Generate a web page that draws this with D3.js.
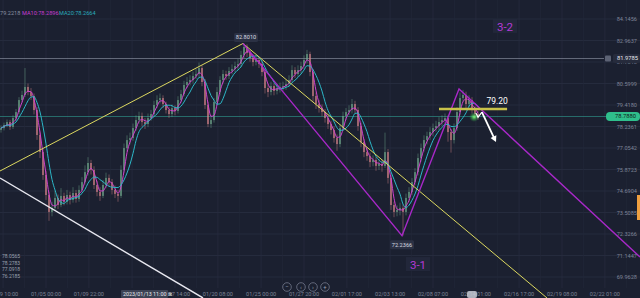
<!DOCTYPE html>
<html><head><meta charset="utf-8">
<script src="https://cdn.jsdelivr.net/npm/d3@7"></script>
<style>html,body{margin:0;padding:0;background:#1b2030;overflow:hidden}svg{display:block}</style>
</head><body>
<svg id="c" width="640" height="298"></svg>
<script>
// ---------- data ----------
const firstOpen = 78.05;
const closes = [78.15,78.32,78.48,78.21,78.70,79.03,79.69,79.97,80.41,80.13,
 79.91,79.14,77.77,76.83,75.57,74.47,73.54,73.76,74.31,73.92,
 74.42,74.09,74.47,74.20,74.58,74.25,74.75,75.18,75.73,76.23,
 75.85,75.02,74.64,74.42,75.02,75.41,75.18,74.75,74.53,74.42,
 75.85,77.05,77.49,77.60,78.15,78.59,78.81,78.48,78.37,78.70,
 78.92,79.42,79.69,79.80,79.47,79.14,78.92,79.25,79.09,79.69,
 80.02,80.52,80.68,80.79,81.01,81.12,81.45,80.68,79.42,78.37,
 78.59,79.58,80.13,80.79,81.12,81.01,81.29,81.40,81.56,81.67,
 82.17,82.61,82.28,82.00,81.78,81.89,81.67,81.23,80.35,80.13,
 80.46,80.19,80.30,80.41,80.46,80.57,80.79,81.34,81.12,81.34,
 81.56,81.89,82.22,81.23,79.91,79.47,79.25,79.03,78.70,78.37,
 78.04,77.60,77.27,78.15,78.81,79.03,79.14,79.47,79.14,78.26,
 77.38,76.83,76.61,76.28,76.40,76.07,76.18,76.07,76.83,75.41,
 73.92,73.54,73.65,73.76,73.54,74.31,74.64,75.18,75.73,76.50,
 77.05,77.49,77.71,77.93,78.15,78.26,78.48,78.59,78.70,77.93,
 77.49,78.15,79.03,79.80,79.97,79.47,79.69,79.14,78.92,78.79];
const highs = [78.30,78.45,78.62,78.60,78.85,79.20,79.85,80.20,81.45,80.60,
 80.35,80.05,79.30,77.95,77.00,75.80,74.65,74.10,74.70,74.50,
 74.85,74.60,74.75,74.65,74.90,74.75,75.00,75.45,76.10,76.55,
 76.40,76.05,75.25,74.90,75.30,75.70,75.60,75.35,75.00,74.75,
 76.10,77.30,77.75,77.90,78.40,78.85,79.05,79.00,78.70,78.95,
 79.15,79.65,79.95,80.05,79.95,79.60,79.30,79.45,79.40,79.90,
 80.25,80.75,80.95,81.05,81.25,81.40,81.75,81.60,80.85,79.60,
 78.85,79.80,80.40,81.00,81.35,81.30,81.50,81.65,81.80,81.95,
 82.40,82.80,82.75,82.45,82.20,82.10,82.05,81.85,81.40,80.55,
 80.70,80.60,80.55,80.65,80.70,80.80,81.05,81.60,81.50,81.60,
 81.80,82.15,82.45,82.35,81.40,80.10,79.70,79.45,79.20,78.90,
 78.55,78.25,77.80,78.35,79.05,79.25,79.40,79.75,79.65,79.30,
 78.45,77.55,77.05,76.80,76.65,76.55,76.45,76.40,77.90,77.00,
 75.60,74.10,73.90,74.05,73.95,74.55,74.90,75.40,75.95,76.75,
 77.30,77.75,77.95,78.20,78.40,78.55,78.75,78.85,78.95,78.85,
 78.10,78.40,79.30,80.10,80.25,80.15,79.95,79.85,79.35,79.10];
const lows = [77.90,78.02,78.20,78.05,78.10,78.55,78.90,79.55,79.85,79.95,
 79.70,78.90,77.50,76.50,75.30,74.20,73.05,73.30,73.60,73.70,
 73.80,73.90,73.95,73.95,74.05,74.05,74.10,74.60,75.05,75.55,
 75.60,74.80,74.40,74.15,74.30,74.85,74.95,74.50,74.30,74.10,
 74.30,75.70,76.85,77.25,77.45,78.00,78.40,78.25,78.10,78.20,
 78.55,78.80,79.25,79.50,79.25,78.95,78.70,78.75,78.85,78.95,
 79.55,79.90,80.35,80.50,80.60,80.85,80.95,80.45,79.20,78.20,
 78.15,78.45,79.40,79.95,80.60,80.80,80.85,81.10,81.20,81.35,
 81.50,82.00,82.05,81.80,81.55,81.60,81.45,81.00,80.05,79.85,
 79.95,79.95,80.00,80.10,80.20,80.25,80.40,80.65,80.90,80.95,
 81.15,81.40,81.70,81.00,79.60,79.20,79.00,78.80,78.45,78.10,
 77.80,77.35,76.90,77.10,78.00,78.60,78.85,78.95,78.95,78.00,
 77.10,76.55,76.35,76.00,76.05,75.80,75.85,75.75,75.95,75.10,
 73.65,73.25,73.30,73.35,72.24,73.35,74.10,74.45,75.00,75.55,
 76.30,76.85,77.25,77.50,77.70,77.95,78.05,78.25,78.35,77.40,
 76.80,77.30,78.00,78.85,79.60,79.25,79.30,78.95,78.70,78.60];

const priceTicks = ["69.9628","71.1447","72.3266","73.5085","74.6904","75.8723","77.0542","78.2361","79.4180","80.5999","81.7818","82.9637","84.1456"];
// the label under the crosshair box (01/12 13:00) is hidden in the reference, so it is left blank
const timeLabels = ["12/29 10:00","01/05 00:00","01/09 22:00","","01/17 14:00","01/20 08:00","01/25 00:00","01/27 20:00","02/01 17:00","02/03 13:00","02/08 07:00","02/14 01:00","02/16 17:00","02/19 08:00","02/22 01:00"];
const timeLabelIdx = [0.7,15,29.3,43.7,58,72.3,86.7,101,115.3,129.7,144,158.3,172.7,187,201.3];

const legendTexts = ["79.2218","MA10:78.2896","MA20:78.2664"];
const maWindows = [3, 6]; // each drawn bar aggregates several source bars
const lastPrice = 78.7880;
const markedPrice = 81.9785;
const levelPrice = 79.20;
const peak = {i: 80.67, v: 82.8010};
const trough = {i: 133.67, v: 72.2366};
const apex = {i: 152.67, v: 80.30};
const whiteLine = [{i:-0.33, v:75.405},{i:67.33, v:68.81}];
const yellowUp = [{i:-0.33, v:75.79}, peak];
const yellowDown = [peak, {i:182, v:68.81}];
const purplePath = [peak, trough, apex, {i:213, v:71.06}];
const levelSpan = [146, 168.7];
const arrowPts = [{i:160.3, v:79.03},{i:165, v:77.38}];
const checkPts = [{i:158.3, v:78.98},{i:159, v:78.74},{i:160.3, v:79.03}];
const dotPt = {i:157.7, v:78.76};
const waveLabels = [{t:"3-1", i:139, v:70.62},{t:"3-2", i:168, v:83.71}];
const cornerTexts = ["78.0565","78.2783","77.0918","76.2185"];

// ---------- scales ----------
const svg = d3.select("#c");
const W = 640, H = 298;
const x = d3.scaleLinear().domain([0, 159]).range([1, 478]);
const y = d3.scaleLinear().domain([+priceTicks[0], +priceTicks[priceTicks.length-1]]).range([277, 19]);

svg.append("rect").attr("width",W).attr("height",H).attr("fill","#1b2030");

// grid
const g = svg.append("g");
const xStep = x(timeLabelIdx[1]) - x(timeLabelIdx[0]);
priceTicks.forEach(t => {
  g.append("line").attr("x1",0).attr("x2",W).attr("y1",y(+t)).attr("y2",y(+t))
    .attr("stroke","#2a3044").attr("stroke-width",0.7);
});
timeLabelIdx.forEach((ti,k) => {
  const px = x(ti);
  g.append("line").attr("x1",px).attr("x2",px).attr("y1",0).attr("y2",288)
    .attr("stroke","#282d40").attr("stroke-width",0.7);
  g.append("line").attr("x1",px+xStep/2).attr("x2",px+xStep/2)
    .attr("y1",0).attr("y2",288).attr("stroke","#232839").attr("stroke-width",0.6);
});

// horizontal reference lines
svg.append("line").attr("x1",0).attr("x2",604).attr("y1",y(markedPrice)).attr("y2",y(markedPrice))
  .attr("stroke","#9aa0b0").attr("stroke-width",0.8).attr("opacity",0.8);
svg.append("line").attr("x1",0).attr("x2",606).attr("y1",y(lastPrice)).attr("y2",y(lastPrice))
  .attr("stroke","#2f8f86").attr("stroke-width",0.8).attr("opacity",0.9);

// candles
const candles = closes.map((c,i) => ({i, o: i===0?firstOpen:closes[i-1], c, h: highs[i], l: lows[i]}));
const cg = svg.append("g");
candles.forEach(d => {
  const up = d.c >= d.o;
  const col = up ? "#72ab8e" : "#d9868c";
  cg.append("line").attr("x1",x(d.i)).attr("x2",x(d.i)).attr("y1",y(d.h)).attr("y2",y(d.l))
    .attr("stroke",col).attr("stroke-width",0.6).attr("opacity",0.75);
  const top = y(Math.max(d.o,d.c)), bot = y(Math.min(d.o,d.c));
  cg.append("rect").attr("x",x(d.i)-0.8).attr("width",1.6).attr("y",top).attr("height",Math.max(0.8,bot-top))
    .attr("fill",col).attr("opacity",0.75);
});

// moving averages
function sma(arr, n){ return arr.map((v,i)=>{ const s=arr.slice(Math.max(0,i-n+1),i+1); return d3.mean(s); }); }
const maCols = ["#d23fd0","#2cb8c8"];
maWindows.forEach((n,k) => {
  const m = sma(closes, n);
  svg.append("path").datum(m).attr("fill","none").attr("stroke",maCols[k]).attr("stroke-width",1)
    .attr("d", d3.line().x((v,i)=>x(i)).y(v=>y(v)).curve(d3.curveMonotoneX));
});

// trend lines
const ln = d3.line().x(p=>x(p.i)).y(p=>y(p.v));
svg.append("path").datum(whiteLine).attr("d",ln).attr("stroke","#e8e8f0").attr("stroke-width",1.4).attr("fill","none");
svg.append("path").datum(yellowUp).attr("d",ln).attr("stroke","#dcd860").attr("stroke-width",1).attr("fill","none");
svg.append("path").datum(yellowDown).attr("d",ln).attr("stroke","#dcd860").attr("stroke-width",1).attr("fill","none");
svg.append("path").datum(purplePath).attr("d",ln).attr("stroke","#a828c8").attr("stroke-width",1.4).attr("fill","none");

// level line 79.20
svg.append("line").attr("x1",x(levelSpan[0])).attr("x2",x(levelSpan[1])).attr("y1",y(levelPrice)).attr("y2",y(levelPrice))
  .attr("stroke","#c9c24a").attr("stroke-width",2.5);
svg.append("text").attr("x",x(levelSpan[1])-10).attr("y",y(levelPrice)-5).text(levelPrice.toFixed(2))
  .attr("fill","#ffffff").attr("font-family","Roboto, sans-serif").attr("font-size",8.5).attr("text-anchor","middle");

// green glow dot
const defs = svg.append("defs");
const rg = defs.append("radialGradient").attr("id","glow");
rg.append("stop").attr("offset","0%").attr("stop-color","#7cff7c").attr("stop-opacity",1);
rg.append("stop").attr("offset","100%").attr("stop-color","#2aa040").attr("stop-opacity",0);
svg.append("circle").attr("cx",x(dotPt.i)).attr("cy",y(dotPt.v)).attr("r",5).attr("fill","url(#glow)");

// check mark + arrow
svg.append("path").datum(checkPts).attr("d",ln).attr("stroke","#ffffff").attr("stroke-width",1.2).attr("fill","none");
const a0 = arrowPts[0], a1 = arrowPts[1];
const ax0 = x(a0.i), ay0 = y(a0.v), ax1 = x(a1.i), ay1 = y(a1.v);
const ang = Math.atan2(ay1-ay0, ax1-ax0);
svg.append("line").attr("x1",ax0).attr("y1",ay0).attr("x2",ax1-4*Math.cos(ang)).attr("y2",ay1-4*Math.sin(ang))
  .attr("stroke","#ffffff").attr("stroke-width",1.8);
const hl = 6, hw = 3.2;
const bx = ax1-hl*Math.cos(ang), by = ay1-hl*Math.sin(ang);
svg.append("path").attr("d",`M${ax1},${ay1}L${bx+hw*Math.sin(ang)},${by-hw*Math.cos(ang)}L${bx-hw*Math.sin(ang)},${by+hw*Math.cos(ang)}Z`)
  .attr("fill","#ffffff");

// peak / trough labels
function tag(px, py, txt){
  const gg = svg.append("g");
  gg.append("rect").attr("x",px-12).attr("y",py-4.5).attr("width",24).attr("height",9).attr("rx",1.5).attr("fill","#2b3144");
  gg.append("text").attr("x",px).attr("y",py+2).attr("text-anchor","middle").attr("fill","#d6d9e0")
    .attr("font-family","Roboto, sans-serif").attr("font-size",5.6).text(txt);
}
tag(x(peak.i)+3, y(peak.v)-6, peak.v.toFixed(4));
tag(x(trough.i), y(trough.v)+9, trough.v.toFixed(4));

// wave labels
waveLabels.forEach(w => {
  const px = x(w.i), py = y(w.v);
  svg.append("rect").attr("x",px-12).attr("y",py-8).attr("width",24).attr("height",14).attr("fill","#22273a");
  svg.append("text").attr("x",px).attr("y",py+4).attr("text-anchor","middle").attr("fill","#b43ad6")
    .attr("font-family","Roboto, sans-serif").attr("font-size",11.5).text(w.t);
});

// price axis labels
priceTicks.forEach(t => {
  svg.append("text").attr("x",637).attr("y",y(+t)+2).attr("text-anchor","end").attr("fill","#7d8396")
    .attr("font-family","Roboto, sans-serif").attr("font-size",5.6).text(t);
});
// marked price tag
svg.append("rect").attr("x",605).attr("y",y(markedPrice)-3).attr("width",6).attr("height",6).attr("rx",1).attr("fill","#5c6274");
svg.append("rect").attr("x",613).attr("y",y(markedPrice)-4.5).attr("width",27).attr("height",9).attr("rx",1.5).attr("fill","#262b3c");
svg.append("text").attr("x",638).attr("y",y(markedPrice)+2).attr("text-anchor","end").attr("fill","#e6e8ee")
  .attr("font-family","Roboto, sans-serif").attr("font-size",5.8).text(markedPrice.toFixed(4));
// last price tag
svg.append("rect").attr("x",606).attr("y",y(lastPrice)-4.5).attr("width",34).attr("height",9).attr("rx",4).attr("fill","#2fbf8c");
svg.append("text").attr("x",636).attr("y",y(lastPrice)+2).attr("text-anchor","end").attr("fill","#10221a")
  .attr("font-family","Roboto, sans-serif").attr("font-size",5.8).text(lastPrice.toFixed(4));
// orange marker at right edge
svg.append("rect").attr("x",637).attr("y",195).attr("width",3).attr("height",25).attr("fill","#f0a040");

// time axis labels
timeLabels.forEach((t,k) => {
  if (!t) return;
  svg.append("text").attr("x",x(timeLabelIdx[k])).attr("y",296).attr("text-anchor","middle").attr("fill","#7d8396")
    .attr("font-family","Roboto, sans-serif").attr("font-size",5.6).text(t);
});
// crosshair time box
svg.append("rect").attr("x",121).attr("y",290).attr("width",47).attr("height",8).attr("rx",1).attr("fill","#3c4254");
svg.append("text").attr("x",123).attr("y",296).attr("fill","#e6e8ee").attr("font-family","Roboto, sans-serif")
  .attr("font-size",5.4).text("2023/01/13 11:00 \u22A0");
svg.append("rect").attr("x",467).attr("y",291).attr("width",10).attr("height",7).attr("rx",2).attr("fill","#c8ccd6").attr("opacity",0.85);

// legend
const legCols = ["#8a90a2","#c63cd0","#2aaabb"];
const legX = [0, 22, 59];
legendTexts.forEach((t,k) => {
  svg.append("text").attr("x",legX[k]).attr("y",15).attr("fill",legCols[k]).attr("font-family","Roboto, sans-serif")
    .attr("font-size",5.6).text(t);
});

// corner texts
cornerTexts.forEach((t,k) => {
  svg.append("text").attr("x",2).attr("y",258+k*6.5).attr("fill","#9aa0b0").attr("font-family","Roboto, sans-serif")
    .attr("font-size",5).text(t);
});

// zoom buttons
const btns = ["\u2212","\u2039","\u203A","+"];
[287,301,313,325].forEach((bxp,k) => {
  svg.append("circle").attr("cx",bxp).attr("cy",287).attr("r",4.3).attr("fill","none").attr("stroke","#7d8396").attr("stroke-width",0.7);
  svg.append("text").attr("x",bxp).attr("y",289).attr("text-anchor","middle").attr("fill","#9aa0b0")
    .attr("font-family","Roboto, sans-serif").attr("font-size",6).text(btns[k]);
});
</script>
</body></html>
